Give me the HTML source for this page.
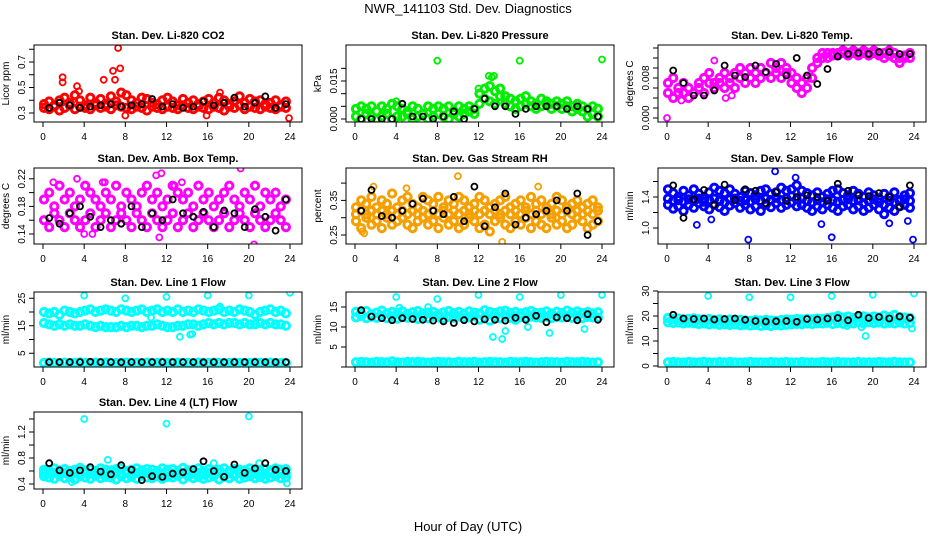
<!DOCTYPE html>
<html><head><meta charset="utf-8"><style>
body{margin:0;background:#fff}
svg{display:block;font-family:"Liberation Sans",sans-serif}
</style></head><body>
<svg id="chart" width="936" height="540" viewBox="0 0 936 540">
<text x="468" y="13" text-anchor="middle" font-size="13">NWR_141103 Std. Dev. Diagnostics</text>
<text x="468" y="531" text-anchor="middle" font-size="13">Hour of Day (UTC)</text>
</svg>
<script>
// ---- data ----
const co2CloudA=[0.37,0.39,0.36,0.40,0.42,0.38,0.44,0.40,0.36,0.42,0.38,0.41,0.37,0.43,0.39,0.46,0.44,0.40,0.38,0.42,0.41,0.38,0.37,0.40,0.42,0.39,0.36,0.41,0.38,0.40,0.37,0.39,0.41,0.38,0.42,0.40,0.37,0.39,0.43,0.38,0.41,0.39,0.40,0.37,0.38,0.40,0.36,0.39];
const co2CloudB=[0.34,0.33,0.35,0.32,0.34,0.36,0.33,0.35,0.34,0.33,0.36,0.34,0.35,0.33,0.36,0.35,0.34,0.33,0.35,0.34,0.32,0.35,0.34,0.33,0.35,0.34,0.33,0.36,0.34,0.33,0.35,0.34,0.33,0.35,0.34,0.32,0.35,0.34,0.36,0.33,0.35,0.34,0.33,0.35,0.34,0.33,0.35,0.34];
const co2OutHours=[1.9,1.9,3.3,3.5,5.9,6.8,7.0,7.3,7.5,8.0,15.9,17.2,23.9];
const co2OutValues=[0.58,0.54,0.51,0.47,0.56,0.63,0.56,0.81,0.65,0.28,0.28,0.46,0.26];
const co2Black=[0.34,0.38,0.36,0.34,0.35,0.36,0.37,0.35,0.36,0.37,0.41,0.35,0.37,0.34,0.35,0.39,0.36,0.38,0.42,0.35,0.38,0.43,0.34,0.37];

const presCloudA=[0.004,0.005,0.004,0.005,0.003,0.005,0.004,0.006,0.005,0.004,0.003,0.005,0.004,0.002,0.005,0.004,0.005,0.004,0.005,0.003,0.005,0.004,0.005,0.004,0.010,0.012,0.013,0.011,0.012,0.009,0.008,0.007,0.008,0.009,0.007,0.006,0.008,0.007,0.006,0.007,0.006,0.007,0.005,0.006,0.005,0.004,0.005,0.004];
const presCloudB=[0.001,0.000,0.002,0.001,0.000,0.001,0.002,0.000,0.001,0.001,0.002,0.000,0.001,0.002,0.000,0.001,0.002,0.001,0.000,0.002,0.001,0.002,0.003,0.002,0.006,0.008,0.007,0.006,0.009,0.006,0.005,0.004,0.005,0.006,0.005,0.004,0.005,0.006,0.004,0.005,0.004,0.005,0.003,0.004,0.003,0.001,0.002,0.001];
const presOutHours=[8,16,24,13.5,13.3,12,13,4];
const presOutValues=[0.023,0.023,0.0235,0.017,0.0165,0.012,0.017,0.007];
const presBlack=[0.000,0.000,0.000,0.000,0.006,0.001,0.001,0.000,0.001,0.003,0.000,0.004,0.008,0.005,0.005,0.002,0.004,0.005,0.005,0.005,0.004,0.005,0.004,0.001];

const tempCloudA=[0.007,0.008,0.006,0.007,0.006,0.005,0.007,0.008,0.009,0.007,0.008,0.009,0.008,0.009,0.010,0.009,0.010,0.009,0.010,0.009,0.011,0.010,0.011,0.010,0.009,0.008,0.007,0.008,0.010,0.012,0.013,0.013,0.013,0.013,0.0135,0.013,0.0135,0.013,0.0135,0.013,0.0135,0.013,0.013,0.0135,0.013,0.012,0.0125,0.013];
const tempCloudB=[0.005,0.004,0.005,0.005,0.004,0.005,0.006,0.005,0.007,0.006,0.007,0.006,0.007,0.006,0.008,0.007,0.008,0.007,0.008,0.009,0.008,0.009,0.008,0.009,0.007,0.006,0.005,0.006,0.008,0.011,0.012,0.012,0.0125,0.0125,0.013,0.0125,0.013,0.0125,0.013,0.0125,0.013,0.0125,0.012,0.0125,0.012,0.011,0.012,0.012];
const tempOutHours=[0,1.4,4.6,5.7,6.3];
const tempOutValues=[0.000,0.0035,0.0115,0.004,0.0045];
const tempBlack=[0.0095,0.007,0.0045,0.0045,0.0055,0.0105,0.0085,0.0082,0.0105,0.0092,0.0108,0.0085,0.012,0.0085,0.0068,0.0098,0.0123,0.0128,0.013,0.0128,0.0132,0.0132,0.0128,0.0128];

const ambCloudA=[0.19,0.20,0.18,0.21,0.19,0.20,0.18,0.19,0.21,0.20,0.19,0.18,0.20,0.19,0.21,0.18,0.20,0.19,0.18,0.20,0.21,0.19,0.20,0.18,0.19,0.21,0.20,0.19,0.20,0.18,0.21,0.19,0.20,0.18,0.19,0.20,0.21,0.19,0.18,0.20,0.19,0.21,0.18,0.20,0.19,0.20,0.18,0.19];
const ambCloudB=[0.16,0.15,0.17,0.16,0.15,0.17,0.16,0.15,0.16,0.17,0.15,0.16,0.17,0.15,0.16,0.17,0.16,0.15,0.17,0.16,0.15,0.17,0.16,0.15,0.16,0.17,0.15,0.16,0.17,0.15,0.16,0.17,0.16,0.15,0.16,0.17,0.15,0.16,0.17,0.16,0.15,0.17,0.16,0.15,0.16,0.17,0.16,0.15];
const ambOutHours=[1.0,3.3,4.0,4.8,5.8,6.0,11.0,11.5,11.3,19.2,20.5,12.8,13.5];
const ambOutValues=[0.215,0.22,0.14,0.14,0.215,0.215,0.225,0.228,0.135,0.235,0.125,0.21,0.215];
const ambBlack=[0.163,0.155,0.170,0.180,0.165,0.150,0.160,0.155,0.180,0.150,0.170,0.160,0.190,0.170,0.165,0.172,0.150,0.174,0.170,0.150,0.176,0.165,0.145,0.190];

const rhCloudA=[0.33,0.35,0.34,0.36,0.33,0.35,0.34,0.37,0.33,0.35,0.36,0.34,0.33,0.36,0.35,0.34,0.36,0.33,0.35,0.34,0.36,0.35,0.33,0.34,0.36,0.35,0.33,0.34,0.35,0.36,0.33,0.34,0.35,0.33,0.36,0.34,0.35,0.33,0.34,0.36,0.35,0.33,0.34,0.35,0.33,0.34,0.35,0.33];
const rhCloudB=[0.29,0.27,0.30,0.28,0.29,0.27,0.30,0.28,0.29,0.30,0.28,0.27,0.29,0.30,0.28,0.29,0.27,0.30,0.28,0.29,0.27,0.28,0.30,0.29,0.27,0.28,0.26,0.29,0.30,0.28,0.27,0.29,0.28,0.30,0.27,0.29,0.28,0.27,0.30,0.28,0.29,0.27,0.28,0.30,0.29,0.27,0.28,0.29];
const rhCloudC=[0.31,0.32,0.31,0.32,0.31,0.32,0.31,0.32,0.31,0.32,0.31,0.32,0.31,0.32,0.31,0.32,0.31,0.32,0.31,0.32,0.31,0.32,0.31,0.32,0.31,0.32,0.31,0.32,0.31,0.32,0.31,0.32,0.31,0.32,0.31,0.32,0.31,0.32,0.31,0.32,0.31,0.32,0.31,0.32,0.31,0.32,0.31,0.32];
const rhOutHours=[10,1.8,17.8,14.3,0.7,0.9,5.0];
const rhOutValues=[0.42,0.39,0.39,0.23,0.26,0.255,0.385];
const rhBlack=[0.32,0.38,0.305,0.30,0.32,0.34,0.355,0.32,0.31,0.36,0.29,0.39,0.275,0.33,0.37,0.28,0.30,0.31,0.32,0.35,0.32,0.37,0.25,0.29];

const flowCloudA=[1.50,1.45,1.40,1.48,1.42,1.50,1.44,1.38,1.46,1.52,1.48,1.45,1.50,1.44,1.40,1.48,1.45,1.42,1.48,1.50,1.44,1.46,1.52,1.48,1.50,1.55,1.48,1.45,1.42,1.46,1.40,1.44,1.48,1.50,1.45,1.42,1.48,1.44,1.40,1.46,1.42,1.38,1.44,1.40,1.46,1.36,1.42,1.45];
const flowCloudB=[1.30,1.25,1.28,1.22,1.30,1.26,1.32,1.28,1.24,1.30,1.27,1.22,1.29,1.32,1.26,1.30,1.24,1.28,1.22,1.30,1.27,1.32,1.26,1.30,1.33,1.28,1.30,1.26,1.22,1.28,1.24,1.30,1.26,1.22,1.28,1.30,1.24,1.28,1.22,1.26,1.30,1.24,1.18,1.26,1.22,1.28,1.30,1.26];
const flowCloudC=[1.38,1.35,1.36,1.34,1.37,1.35,1.38,1.34,1.36,1.38,1.35,1.33,1.37,1.38,1.35,1.36,1.34,1.37,1.35,1.38,1.36,1.39,1.36,1.38,1.41,1.37,1.38,1.35,1.33,1.36,1.33,1.37,1.36,1.34,1.36,1.37,1.35,1.36,1.32,1.35,1.37,1.33,1.30,1.35,1.33,1.35,1.37,1.35];
const flowOutHours=[2.9,7.9,16,23.9,10.5,12.5,15.0,4.3,21.6,23.4];
const flowOutValues=[1.04,0.85,0.88,0.85,1.73,1.65,1.05,1.11,1.06,1.09];
const flowBlack=[1.55,1.13,1.37,1.49,1.30,1.56,1.36,1.50,1.48,1.32,1.46,1.35,1.40,1.42,1.40,1.35,1.57,1.48,1.42,1.41,1.45,1.40,1.27,1.55];

const l1CloudA=[20,19.5,20,19,20.5,20,19.5,20,20.5,21,20,20.5,21,20.5,20,21,20.5,20,20.5,21,20,20.5,21,20,20.5,20,21,20,20.5,20,21,20.5,20,20.5,21,20,20.5,20,21,20.5,20,19,20,20.5,21,20,20.5,19.5];
const l1CloudB=[16,15.5,15,15.5,15,15.5,15,15,15.5,15,14.5,15,14.5,14.5,14.5,15,14.5,15,15,14.5,15,15,15.5,15,14.5,14.5,15,15,15.5,15.5,15,15.5,16,15.5,16,15.5,16,16,15.5,16,15.5,15.5,16,15.5,16,15.5,15.5,15];
const l1CloudC=[1.5,1.6,1.5,1.4,1.6,1.5,1.5,1.7,1.5,1.4,1.6,1.5,1.6,1.5,1.4,1.5,1.6,1.5,1.5,1.4,1.6,1.5,1.5,1.6,1.4,1.5,1.6,1.5,1.5,1.4,1.6,1.5,1.5,1.6,1.5,1.4,1.5,1.6,1.5,1.5,1.4,1.6,1.5,1.5,1.6,1.5,1.4,1.5];
const l1OutHours=[4,8,12,16,20,24,13.3,14.3,14.5,10.5,17.2];
const l1OutValues=[26,25,25.5,26,26,27,11,11.8,12,18,22];
const l1Black=[1.8,1.8,1.8,1.8,1.9,1.8,1.8,1.7,1.8,1.8,1.8,1.8,1.8,1.8,1.8,1.7,1.8,1.8,1.8,1.8,1.8,1.8,1.8,1.8];

const l2CloudA=[13.8,13.5,14,13.2,13.6,14.1,13.4,13.8,13.5,13.9,13.3,13.7,14,13.4,13.6,13.8,13.2,13.7,14,13.5,13.8,13.3,13.9,13.6,13.4,14.2,13.8,13.5,13.9,14.1,13.5,13.8,13.4,13.7,14,13.5,13.6,13.9,13.4,13.8,13.5,14.1,13.6,13.9,13.5,13.8,13.4,13.7];
const l2CloudB=[12.4,12.8,12.2,12.6,12.3,12.7,12.2,12.5,12.1,12.6,12.3,12.4,12.0,12.5,12.2,12.6,12.4,12.1,12.5,12.3,12.6,12.2,12.4,12.7,11.8,12.3,11.6,12.4,12.2,12.6,12.3,11.8,12.5,12.2,12.6,12.4,12.3,12.6,12.2,12.5,12.4,12.7,12.3,12.6,12.2,12.5,12.4,12.3];
const l2CloudC=[1.2,1.3,1.2,1.1,1.3,1.2,1.2,1.4,1.2,1.1,1.3,1.2,1.3,1.2,1.1,1.2,1.3,1.2,1.2,1.1,1.3,1.2,1.2,1.3,1.1,1.2,1.3,1.2,1.2,1.1,1.3,1.2,1.2,1.3,1.2,1.1,1.2,1.3,1.2,1.2,1.1,1.3,1.2,1.2,1.3,1.2,1.1,1.2];
const l2OutHours=[4,8,12,16,20,24,13.4,14.3,18.9,22.3,4.3,7.1,14.6,16.8];
const l2OutValues=[17.5,17,18,17.5,18,18,7.5,7,8.5,9.5,14.8,15,9,10];
const l2Black=[14.2,12.6,12.2,11.7,12.2,12.0,11.8,11.6,11.4,11.0,11.7,11.4,11.9,11.8,11.6,12.3,11.8,12.8,11.2,12.4,12.2,11.7,13.2,11.8];

const l3CloudA=[19.2,18.8,19.0,18.6,18.9,19.1,18.7,18.5,18.8,18.4,18.7,18.3,18.6,18.2,18.5,18.3,18.1,18.4,18.2,18.5,18.3,18.1,18.4,18.6,18.5,18.8,18.6,18.9,18.7,19.0,18.8,19.2,19.5,20.0,19.4,19.8,19.3,19.6,19.9,19.4,19.8,19.5,20.2,19.7,20.5,19.6,19.4,19.2];
const l3CloudB=[17.5,17.2,17.4,17.0,17.3,17.1,16.8,17.0,16.6,16.9,16.5,16.7,16.4,16.6,16.3,16.5,16.2,16.4,16.1,16.3,16.0,16.4,16.2,16.5,16.6,16.8,16.7,17.0,16.8,17.1,17.0,17.3,16.8,17.2,16.9,17.3,17.0,17.4,17.1,17.5,17.2,17.4,17.0,17.3,17.1,17.4,17.0,17.2];
const l3CloudC=[1.5,1.6,1.5,1.4,1.6,1.5,1.5,1.7,1.5,1.4,1.6,1.5,1.6,1.5,1.4,1.5,1.6,1.5,1.5,1.4,1.6,1.5,1.5,1.6,1.4,1.5,1.6,1.5,1.5,1.4,1.6,1.5,1.5,1.6,1.5,1.4,1.5,1.6,1.5,1.5,1.4,1.6,1.5,1.5,1.6,1.5,1.4,1.5];
const l3OutHours=[4,8,12,16,20,24,19.3,23.8,18.9,17.5];
const l3OutValues=[28,27.5,27.5,28,28.5,29,12,15,15.5,16];
const l3Black=[20.5,19.0,18.8,19.0,18.6,18.8,19.0,18.5,18.0,17.8,17.9,18.0,17.7,18.8,18.6,19.0,19.2,18.3,20.5,19.2,19.6,19.0,19.8,19.3];

const l4CloudA=[0.62,0.60,0.64,0.61,0.63,0.60,0.62,0.65,0.61,0.63,0.60,0.64,0.62,0.61,0.63,0.65,0.60,0.62,0.64,0.61,0.63,0.62,0.60,0.64,0.62,0.63,0.60,0.65,0.61,0.62,0.64,0.60,0.63,0.61,0.62,0.64,0.60,0.63,0.62,0.61,0.64,0.62,0.60,0.63,0.61,0.64,0.62,0.63];
const l4CloudB=[0.52,0.50,0.48,0.53,0.49,0.51,0.47,0.52,0.50,0.48,0.53,0.49,0.51,0.50,0.47,0.52,0.49,0.51,0.48,0.53,0.50,0.49,0.52,0.48,0.51,0.50,0.53,0.47,0.52,0.49,0.51,0.48,0.50,0.52,0.47,0.51,0.49,0.53,0.48,0.50,0.52,0.49,0.51,0.48,0.50,0.52,0.49,0.50];
const l4CloudC=[0.57,0.56,0.57,0.56,0.57,0.56,0.57,0.56,0.57,0.56,0.57,0.56,0.57,0.56,0.57,0.56,0.57,0.56,0.57,0.56,0.57,0.56,0.57,0.56,0.57,0.56,0.57,0.56,0.57,0.56,0.57,0.56,0.57,0.56,0.57,0.56,0.57,0.56,0.57,0.56,0.57,0.56,0.57,0.56,0.57,0.56,0.57,0.56];
const l4OutHours=[4,12,20,6.3,2.8,23.7,16.6,21];
const l4OutValues=[1.40,1.33,1.44,0.77,0.43,0.41,0.72,0.72];
const l4Black=[0.72,0.61,0.57,0.61,0.66,0.59,0.55,0.69,0.62,0.46,0.52,0.51,0.56,0.58,0.63,0.75,0.60,0.51,0.70,0.57,0.64,0.72,0.62,0.60];

const xTicks=[0,4,8,12,16,20,24];

const panels=[
 {id:'co2',title:'Stan. Dev. Li-820 CO2',ylab:'Licor ppm',col:0,row:0,color:'#ff0000',v0:0.3,p0:113,ppu:127.5,ticks:[0.3,0.4,0.5,0.6,0.7,0.8],labels:['0.3','','0.5','','0.7',''],clouds:[co2CloudA,co2CloudB],outH:co2OutHours,outV:co2OutValues,black:co2Black},
 {id:'pressure',title:'Stan. Dev. Li-820 Pressure',ylab:'kPa',col:1,row:0,color:'#00ee00',v0:0,p0:119,ppu:2533,ticks:[0,0.005,0.01,0.015,0.02],labels:['0.000','','','0.015',''],clouds:[presCloudA,presCloudB],outH:presOutHours,outV:presOutValues,black:presBlack},
 {id:'temp',title:'Stan. Dev. Li-820 Temp.',ylab:'degrees C',col:2,row:0,color:'#ff00ff',v0:0,p0:118,ppu:5000,ticks:[0,0.002,0.004,0.006,0.008,0.01,0.012,0.014],labels:['0.000','','','','0.008','','',''],clouds:[tempCloudA,tempCloudB],outH:tempOutHours,outV:tempOutValues,black:tempBlack},
 {id:'amb-temp',title:'Stan. Dev. Amb. Box Temp.',ylab:'degrees C',col:0,row:1,color:'#ff00ff',v0:0.14,p0:234,ppu:690,ticks:[0.14,0.16,0.18,0.20,0.22],labels:['0.14','','0.18','','0.22'],clouds:[ambCloudA,ambCloudB],outH:ambOutHours,outV:ambOutValues,black:ambBlack},
 {id:'rh',title:'Stan. Dev. Gas Stream RH',ylab:'percent',col:1,row:1,color:'#f5a000',v0:0.25,p0:235,ppu:346,ticks:[0.25,0.30,0.35,0.40],labels:['0.25','','0.35',''],clouds:[rhCloudA,rhCloudB,rhCloudC],outH:rhOutHours,outV:rhOutValues,black:rhBlack},
 {id:'sample-flow',title:'Stan. Dev. Sample Flow',ylab:'ml/min',col:2,row:1,color:'#0000ff',v0:1.0,p0:228,ppu:77.5,ticks:[1.0,1.2,1.4,1.6],labels:['1.0','','1.4',''],clouds:[flowCloudA,flowCloudB,flowCloudC],outH:flowOutHours,outV:flowOutValues,black:flowBlack},
 {id:'line1',title:'Stan. Dev. Line 1 Flow',ylab:'ml/min',col:0,row:2,color:'#00ffff',v0:0,p0:367,ppu:2.75,ticks:[5,10,15,20,25],labels:['5','','15','','25'],clouds:[l1CloudA,l1CloudB,l1CloudC],outH:l1OutHours,outV:l1OutValues,black:l1Black},
 {id:'line2',title:'Stan. Dev. Line 2 Flow',ylab:'ml/min',col:1,row:2,color:'#00ffff',v0:0,p0:367,ppu:4,ticks:[0,5,10,15],labels:['','5','10','15'],clouds:[l2CloudA,l2CloudB,l2CloudC],outH:l2OutHours,outV:l2OutValues,black:l2Black},
 {id:'line3',title:'Stan. Dev. Line 3 Flow',ylab:'ml/min',col:2,row:2,color:'#00ffff',v0:0,p0:366,ppu:2.5,ticks:[0,5,10,15,20,25,30],labels:['0','','10','','20','','30'],clouds:[l3CloudA,l3CloudB,l3CloudC],outH:l3OutHours,outV:l3OutValues,black:l3Black},
 {id:'line4',title:'Stan. Dev. Line 4 (LT) Flow',ylab:'ml/min',col:0,row:3,color:'#00ffff',v0:0.4,p0:484,ppu:65,ticks:[0.4,0.6,0.8,1.0,1.2,1.4],labels:['0.4','','0.8','','1.2',''],clouds:[l4CloudA,l4CloudB,l4CloudC],outH:l4OutHours,outV:l4OutValues,black:l4Black}
];

const rows=[[45,122],[168,244],[292,367],[412,489]];
const colX0=[43,355,667];
const PPH=247/24;
const NS='http://www.w3.org/2000/svg';
const svg=document.getElementById('chart');
function mk(tag,attrs,parent){const e=document.createElementNS(NS,tag);for(const k in attrs)e.setAttribute(k,attrs[k]);(parent||svg).appendChild(e);return e;}

panels.forEach(p=>{
  const x0=colX0[p.col],[top,bot]=rows[p.row];
  const left=x0-9,right=x0+259;
  const xs=h=>x0+h*PPH;
  const ys=v=>p.p0-(v-p.v0)*p.ppu;
  const g=mk('g',{});
  
  
  const clip=mk('clipPath',{id:'clip-'+p.id},g);
  mk('rect',{x:left,y:top,width:right-left,height:bot-top},clip);
  const t=mk('text',{x:(left+right)/2,y:top-6,'text-anchor':'middle','font-size':'11','font-weight':'bold'},g);
  t.textContent=p.title;
  
  
  const yl=mk('text',{x:0,y:0,'text-anchor':'middle','font-size':'10',transform:`translate(${left-25},${(top+bot)/2}) rotate(-90)`},g);
  yl.textContent=p.ylab;
  
  
  const mg=mk('g',{'clip-path':`url(#clip-${p.id})`},g);
  
  
  p.clouds.forEach(arr=>{
    arr.forEach((v,i)=>{
      const c=mk('circle',{cx:xs(i*0.5+0.1).toFixed(1),cy:ys(v).toFixed(1),r:3.6,fill:'none',stroke:p.color,'stroke-width':3},mg);
      
      
    });
  });
  p.outH.forEach((h,i)=>{
    const c=mk('circle',{cx:xs(h).toFixed(1),cy:ys(p.outV[i]).toFixed(1),r:3,fill:'none',stroke:p.color,'stroke-width':1.8},mg);
    
    
  });
  p.black.forEach((v,i)=>{
    const c=mk('circle',{cx:xs(i+0.6).toFixed(1),cy:ys(v).toFixed(1),r:3,fill:'none',stroke:'#000','stroke-width':1.8},mg);
    
    
  });
  const box=mk('rect',{x:left,y:top,width:right-left,height:bot-top,fill:'none',stroke:'#000','stroke-width':1},g);
  
  
  mk('line',{x1:xs(0),x2:xs(24),y1:bot,y2:bot,stroke:'#000'},g);
  xTicks.forEach(h=>{
    mk('line',{x1:xs(h),x2:xs(h),y1:bot,y2:bot+5,stroke:'#000'},g);
    const tl=mk('text',{x:xs(h),y:bot+18,'text-anchor':'middle','font-size':'10'},g);
    tl.textContent=h;
    
    
  });
  mk('line',{x1:left,x2:left,y1:ys(p.ticks[0]),y2:ys(p.ticks[p.ticks.length-1]),stroke:'#000'},g);
  p.ticks.forEach((v,i)=>{
    const y=ys(v);
    mk('line',{x1:left-5,x2:left,y1:y,y2:y,stroke:'#000'},g);
    if(p.labels[i]){
      const tl=mk('text',{x:0,y:0,'text-anchor':'middle','font-size':'10',transform:`translate(${left-9},${y}) rotate(-90)`},g);
      tl.textContent=p.labels[i];
      
      
    }
  });
});
</script>
</body></html>
